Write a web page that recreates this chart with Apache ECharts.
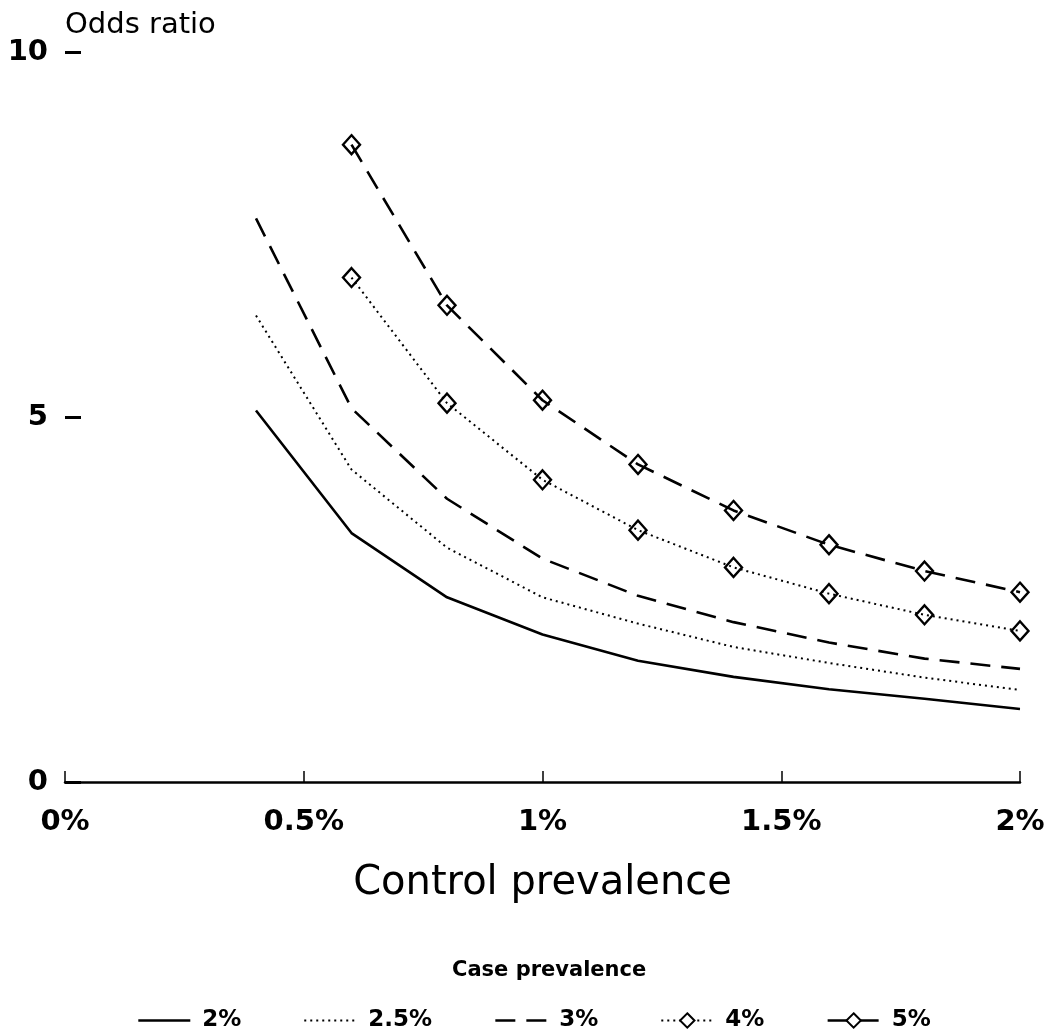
<!DOCTYPE html>
<html>
<head>
<meta charset="utf-8">
<script src="https://cdn.jsdelivr.net/npm/echarts@6/dist/echarts.min.js"></script>
<style>
  html, body { margin: 0; padding: 0; background: #fff; }
  #linechart { width: 1052px; height: 1032px; }
</style>
</head>
<body>
<div id="linechart"></div>
<script>
// control prevalence (%) at which each curve is drawn
var ctrl_all = [0.4, 0.6, 0.8, 1.0, 1.2, 1.4, 1.6, 1.8, 2.0];
var ctrl_dia = [0.6, 0.8, 1.0, 1.2, 1.4, 1.6, 1.8, 2.0];

// odds ratio, one array per case prevalence
var case_2  = [5.09, 3.41, 2.53, 2.02, 1.66, 1.44, 1.27, 1.14, 1.0];
var case_25 = [6.39, 4.28, 3.21, 2.53, 2.17, 1.85, 1.63, 1.43, 1.26];
var case_3  = [7.72, 5.12, 3.88, 3.06, 2.55, 2.19, 1.91, 1.69, 1.55];
var case_4  = [6.91, 5.19, 4.14, 3.45, 2.94, 2.58, 2.29, 2.07];
var case_5  = [8.73, 6.53, 5.23, 4.35, 3.72, 3.25, 2.89, 2.6];

var caseNames = ['2%', '2.5%', '3%', '4%', '5%'];
var caseDash  = ['solid', 'dotted', 'dashed', 'dotted', 'dashed'];
var xTicks = [0, 0.5, 1, 1.5, 2];
var yTicks = [0, 5, 10];

function pairs(xs, ys) {
    return ys.map(function (y, i) { return [xs[i], y]; });
}

var myChart = echarts.init(document.getElementById('linechart'));

var font = 'DejaVu Sans';

function dashOf(type) {
    return type === 'dotted' ? [2, 4] : (type === 'dashed' ? [20, 11] : 'solid');
}

function lineSeries(name, xs, ys, type, withDiamond) {
    return {
        name: name,
        type: 'line',
        data: pairs(xs, ys),
        symbol: withDiamond ? 'diamond' : 'none',
        symbolSize: [17, 19],
        showSymbol: withDiamond,
        lineStyle: { color: '#000', width: type === 'dotted' ? 2 : 2.6, type: dashOf(type) },
        itemStyle: { color: 'rgba(255,255,255,0)', borderColor: '#000', borderWidth: 2.4 },
        emphasis: { disabled: true }
    };
}

// legend entries: plain lines get an invisible symbol, diamonds get a white one
var legendData = caseNames.map(function (n, i) {
    var ls = { color: '#000', width: caseDash[i] === 'dotted' ? 1.8 : 2.6, type: dashOf(caseDash[i]) };
    return i < 3
        ? { name: n, lineStyle: ls, itemStyle: { color: 'rgba(0,0,0,0)', borderWidth: 0 } }
        : { name: n, lineStyle: ls, itemStyle: { color: '#fff', borderColor: '#000', borderWidth: 2 } };
});

option = {
    animation: false,
    backgroundColor: '#fff',
    title: {
        text: 'Case prevalence',
        left: 452,
        top: 960,
        padding: 0,
        textStyle: { fontFamily: font, fontWeight: 'bold', fontSize: 21, color: '#000' }
    },
    legend: {
        data: legendData,
        left: 137,
        top: 1009,
        padding: 0,
        itemWidth: 52,
        itemHeight: 18,
        itemGap: 62,
        textStyle: { fontFamily: font, fontWeight: 'bold', fontSize: 23, color: '#000', padding: [0, 0, 0, 7] }
    },
    grid: { left: 65, right: 32, top: 52, bottom: 250, containLabel: false },
    xAxis: {
        type: 'value',
        min: xTicks[0],
        max: xTicks[xTicks.length - 1],
        interval: xTicks[1] - xTicks[0],
        name: 'Control prevalence',
        nameLocation: 'middle',
        nameGap: 82,
        nameTextStyle: { fontFamily: font, fontSize: 40, color: '#000' },
        axisLine: { lineStyle: { color: '#000', width: 2.5 } },
        axisTick: { inside: true, length: 11, lineStyle: { color: '#000', width: 1.5 } },
        axisLabel: {
            margin: 26,
            fontFamily: font, fontWeight: 'bold', fontSize: 29, color: '#000',
            formatter: function (v) { return v + '%'; }
        },
        splitLine: { show: false }
    },
    yAxis: {
        type: 'value',
        min: yTicks[0],
        max: yTicks[yTicks.length - 1],
        interval: yTicks[1] - yTicks[0],
        name: 'Odds ratio',
        nameLocation: 'end',
        nameGap: 12,
        nameTextStyle: { fontFamily: font, fontSize: 29, color: '#000', align: 'left', verticalAlign: 'bottom' },
        axisLine: { show: false },
        axisTick: { show: true, inside: true, length: 16, lineStyle: { color: '#000', width: 3 } },
        axisLabel: { margin: 17, fontFamily: font, fontWeight: 'bold', fontSize: 29, color: '#000' },
        splitLine: { show: false }
    },
    series: [
        lineSeries(caseNames[0], ctrl_all, case_2, caseDash[0], false),
        lineSeries(caseNames[1], ctrl_all, case_25, caseDash[1], false),
        lineSeries(caseNames[2], ctrl_all, case_3, caseDash[2], false),
        lineSeries(caseNames[3], ctrl_dia, case_4, caseDash[3], true),
        lineSeries(caseNames[4], ctrl_dia, case_5, caseDash[4], true)
    ]
};

myChart.setOption(option);
</script>
</body>
</html>
